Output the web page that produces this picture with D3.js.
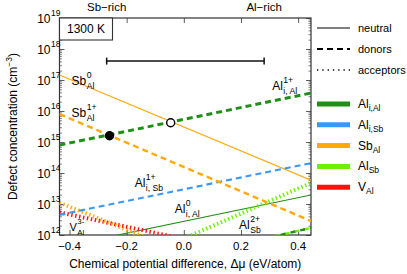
<!DOCTYPE html>
<html>
<head>
<meta charset="utf-8">
<script src="https://cdn.jsdelivr.net/npm/d3@7"></script>
<style>
  body { margin: 0; background: #fff; }
  text { font-family: 'Liberation Sans', sans-serif; fill: #000; }
</style>
</head>
<body>
<div id="chart"></div>
<script>
// defect concentrations vs chemical potential, 1300 K

const xTicks = [-0.4, -0.2, 0.0, 0.2, 0.4]
const yExps = [12, 13, 14, 15, 16, 17, 18, 19]

// each line is given by its two end points (x in eV/atom, log10 of concentration)
const seriesSpecies = ['SbAl', 'SbAl', 'AliAl', 'AliSb', 'AliAl', 'AlSb', 'AlSb', 'AliAl', 'SbAl', 'VAl']
const seriesKind = ['neutral', 'donor', 'donor', 'donor', 'neutral', 'acceptor', 'donor', 'donor', 'acceptor', 'acceptor']
const seriesX = [
  [-0.435, 0.445], [-0.435, 0.445], [-0.435, 0.445], [-0.435, 0.445], [-0.435, 0.445],
  [-0.435, 0.445], [-0.435, 0.445], [-0.435, 0.445], [-0.435, 0.445], [-0.435, 0.445]
]
const seriesLogC = [
  [17.16, 13.77], [15.90, 12.45], [14.90, 16.58], [12.65, 14.32], [11.61, 13.29],
  [10.13, 13.68], [10.36, 12.23], [10.36, 12.23], [13.04, 9.78], [12.73, 10.99]
]

// stability range and the two marked points
const rangeX = [-0.27, 0.281]
const rangeLogC = 17.61
const rangeNames = ['Sb\u2212rich', 'Al\u2212rich']
const pointX = [-0.26, -0.046]
const pointLogC = [15.2, 15.62]
const pointType = ['filled', 'open']

// line labels
const labelBase = ['Sb', 'Sb', 'Al', 'Al', 'Al', 'Al', 'V']
const labelSub = ['Al', 'Al', 'i, Al', 'i, Sb', 'i, Al', 'Sb', 'Al']
const labelSup = ['0', '1+', '1+', '1+', '0', '2+', '3-']
const labelX = [-0.393, -0.393, 0.309, -0.172, -0.032, 0.193, -0.40]
const labelLogC = [16.84, 15.81, 16.68, 13.55, 12.71, 12.19, 12.13]

const legendKinds = ['neutral', 'donors', 'acceptors']
const legendSpecies = ['AliAl', 'AliSb', 'SbAl', 'AlSb', 'VAl']
const legendBase = ['Al', 'Al', 'Sb', 'Al', 'V']
const legendSub = ['i,Al', 'i,Sb', 'Al', 'Sb', 'Al']

const colors = {
  AliAl: '#1f8f17',
  AliSb: '#3a98f5',
  SbAl: '#ffa90a',
  AlSb: '#6ef000',
  VAl: '#ff1010'
}

const kindStyle = {
  neutral: { width: 1.1, dash: null },
  donor: { width: 2.4, dash: '6,4' },
  acceptor: { width: 4, dash: '1.4,2.6' }
}

const width = 407
const height = 274
const margin = { top: 18, right: 96, bottom: 39, left: 59.5 }

const svg = d3
  .select('#chart')
  .append('svg')
  .attr('width', width)
  .attr('height', height)

const xScale = d3
  .scaleLinear()
  .domain([-0.435, 0.445])
  .range([margin.left, width - margin.right])

const yScale = d3
  .scaleLog()
  .domain([1e12, 1e19])
  .range([height - margin.bottom, margin.top])

const x0 = xScale.range()[0]
const x1 = xScale.range()[1]
const y0 = yScale.range()[0]
const y1 = yScale.range()[1]

svg.append('clipPath')
  .attr('id', 'plot-clip')
  .append('rect')
  .attr('x', x0)
  .attr('y', y1)
  .attr('width', x1 - x0)
  .attr('height', y0 - y1)

// axes, ticks pointing inward
const majorY = yExps.map(e => Math.pow(10, e))
const minorY = []
yExps.slice(0, -1).forEach(e => {
  for (let k = 2; k < 10; k++) minorY.push(k * Math.pow(10, e))
})

svg.append('g')
  .attr('class', 'axis')
  .attr('transform', 'translate(' + x0 + ',0)')
  .call(d3.axisRight(yScale).tickValues(majorY).tickSize(5).tickFormat(''))
svg.append('g')
  .attr('class', 'axis minor')
  .attr('transform', 'translate(' + x0 + ',0)')
  .call(d3.axisRight(yScale).tickValues(minorY).tickSize(2.5).tickFormat(''))
svg.append('g')
  .attr('class', 'axis')
  .attr('transform', 'translate(' + x1 + ',0)')
  .call(d3.axisLeft(yScale).tickValues(majorY).tickSize(5).tickFormat(''))
svg.append('g')
  .attr('class', 'axis minor')
  .attr('transform', 'translate(' + x1 + ',0)')
  .call(d3.axisLeft(yScale).tickValues(minorY).tickSize(2.5).tickFormat(''))
svg.append('g')
  .attr('class', 'axis')
  .attr('transform', 'translate(0,' + y0 + ')')
  .call(d3.axisTop(xScale).tickValues(xTicks).tickSize(5).tickFormat(''))
svg.append('g')
  .attr('class', 'axis')
  .attr('transform', 'translate(0,' + y1 + ')')
  .call(d3.axisBottom(xScale).tickValues(xTicks).tickSize(5).tickFormat(''))

svg.selectAll('.axis .domain').remove()
svg.selectAll('.axis line').attr('stroke', '#333').attr('stroke-width', 0.8)
svg.selectAll('.minor line').attr('stroke-width', 0.6)

svg.append('rect')
  .attr('x', x0)
  .attr('y', y1)
  .attr('width', x1 - x0)
  .attr('height', y0 - y1)
  .attr('fill', 'none')
  .attr('stroke', '#333')
  .attr('stroke-width', 1.2)

// tick labels
svg.selectAll('.xlab')
  .data(xTicks)
  .enter()
  .append('text')
  .attr('class', 'xlab')
  .attr('x', d => xScale(d))
  .attr('y', y0 + 15)
  .attr('text-anchor', 'middle')
  .attr('font-size', 11.5)
  .text(d => (d < 0 ? '\u2212' : '') + Math.abs(d).toFixed(1))

const ylab = svg.selectAll('.ylab')
  .data(yExps)
  .enter()
  .append('g')
  .attr('class', 'ylab')
  .attr('transform', d => 'translate(' + (x0 - 9) + ',' + yScale(Math.pow(10, d)) + ')')
ylab.append('text')
  .attr('text-anchor', 'end')
  .attr('y', 5)
  .attr('font-size', 12)
  .text('10')
ylab.append('text')
  .attr('x', 0.5)
  .attr('y', -2)
  .attr('font-size', 8.5)
  .text(d => d)

// axis titles
svg.append('text')
  .attr('x', (x0 + x1) / 2)
  .attr('y', height - 6)
  .attr('text-anchor', 'middle')
  .attr('font-size', 12)
  .text('Chemical potential difference, \u0394\u03bc (eV/atom)')

const ytitle = svg.append('text')
  .attr('transform', 'translate(17,' + (y0 + y1) / 2 + ') rotate(-90)')
  .attr('text-anchor', 'middle')
  .attr('font-size', 12)
ytitle.append('tspan').text('Defect concentration (cm')
ytitle.append('tspan').attr('font-size', 8.5).attr('dy', -5).text('\u22123')
ytitle.append('tspan').attr('dy', 5).text(')')

// lines
const plot = svg.append('g').attr('clip-path', 'url(#plot-clip)')

const line = d3.line()
  .x(d => xScale(d[0]))
  .y(d => yScale(Math.pow(10, d[1])))

const order = [4, 0, 5, 9, 8, 3, 1, 6, 7, 2]
plot.selectAll('.defect')
  .data(order)
  .enter()
  .append('path')
  .attr('class', 'defect')
  .attr('d', i => line(seriesX[i].map((x, j) => [x, seriesLogC[i][j]])))
  .attr('fill', 'none')
  .attr('stroke', i => colors[seriesSpecies[i]])
  .attr('stroke-width', i => i === 2 ? 3 : (i === 3 ? 2.1 : kindStyle[seriesKind[i]].width))
  .attr('stroke-dasharray', i => i === 7 ? '5,5' : kindStyle[seriesKind[i]].dash)
  .attr('stroke-dashoffset', i => i === 7 ? 3 : 0)

// stability range bar
svg.append('line')
  .attr('x1', xScale(rangeX[0]))
  .attr('x2', xScale(rangeX[1]))
  .attr('y1', yScale(Math.pow(10, rangeLogC)))
  .attr('y2', yScale(Math.pow(10, rangeLogC)))
  .attr('stroke', '#111')
  .attr('stroke-width', 1.5)
svg.selectAll('.cap')
  .data(rangeX)
  .enter()
  .append('line')
  .attr('class', 'cap')
  .attr('x1', d => xScale(d))
  .attr('x2', d => xScale(d))
  .attr('y1', yScale(Math.pow(10, rangeLogC)) - 3.5)
  .attr('y2', yScale(Math.pow(10, rangeLogC)) + 3.5)
  .attr('stroke', '#111')
  .attr('stroke-width', 1.5)
svg.selectAll('.rich')
  .data(rangeX)
  .enter()
  .append('text')
  .attr('class', 'rich')
  .attr('x', d => xScale(d))
  .attr('y', 11)
  .attr('text-anchor', 'middle')
  .attr('font-size', 11.5)
  .text((d, i) => rangeNames[i])

// points
svg.selectAll('.pt')
  .data(pointX)
  .enter()
  .append('circle')
  .attr('class', 'pt')
  .attr('cx', d => xScale(d))
  .attr('cy', (d, i) => yScale(Math.pow(10, pointLogC[i])))
  .attr('r', 4)
  .attr('fill', (d, i) => pointType[i] === 'filled' ? '#000' : '#fff')
  .attr('stroke', '#000')
  .attr('stroke-width', 1.4)

// temperature box
svg.append('rect')
  .attr('x', x0)
  .attr('y', y1)
  .attr('width', 53)
  .attr('height', 22)
  .attr('fill', '#fff')
  .attr('stroke', '#333')
  .attr('stroke-width', 1.1)
svg.append('text')
  .attr('x', x0 + 26.5)
  .attr('y', y1 + 15)
  .attr('text-anchor', 'middle')
  .attr('font-size', 12)
  .text('1300 K')

// label with stacked sub- and superscript
function stackedLabel(g, x, y, base, sub, sup, size) {
  const t = g.append('text')
    .attr('x', x)
    .attr('y', y)
    .attr('font-size', size)
    .text(base)
  const w = t.node().getComputedTextLength()
  g.append('text')
    .attr('x', x + w + 0.5)
    .attr('y', y + 4)
    .attr('font-size', size * 0.72)
    .text(sub)
  if (sup) {
    g.append('text')
      .attr('x', x + w + 0.5)
      .attr('y', y - 7)
      .attr('font-size', size * 0.72)
      .text(sup)
  }
}

labelBase.forEach((b, i) => {
  stackedLabel(svg, xScale(labelX[i]), yScale(Math.pow(10, labelLogC[i])),
    b, labelSub[i], labelSup[i], i === 6 ? 11 : 12)
})

// legend
const lx = x1 + 6
const legend = svg.append('g')
legendKinds.forEach((k, i) => {
  const y = 28 + i * 21
  legend.append('line')
    .attr('x1', lx)
    .attr('x2', lx + 33)
    .attr('y1', y)
    .attr('y2', y)
    .attr('stroke', '#000')
    .attr('stroke-width', i === 0 ? 1.2 : (i === 1 ? 2 : 1.3))
    .attr('stroke-dasharray', i === 0 ? null : (i === 1 ? '6,4' : '1.3,4'))
  legend.append('text')
    .attr('x', lx + 41)
    .attr('y', y + 4)
    .attr('font-size', 11)
    .text(k)
})
legendSpecies.forEach((s, i) => {
  const y = 104 + i * 20.8
  legend.append('line')
    .attr('x1', lx)
    .attr('x2', lx + 33)
    .attr('y1', y)
    .attr('y2', y)
    .attr('stroke', colors[s])
    .attr('stroke-width', 5)
  const t = legend.append('text')
    .attr('x', lx + 41)
    .attr('y', y + 4)
    .attr('font-size', 12)
    .text(legendBase[i])
  const w = t.node().getComputedTextLength()
  legend.append('text')
    .attr('x', lx + 41 + w)
    .attr('y', y + 7)
    .attr('font-size', 8.5)
    .text(legendSub[i])
})
</script>
</body>
</html>
